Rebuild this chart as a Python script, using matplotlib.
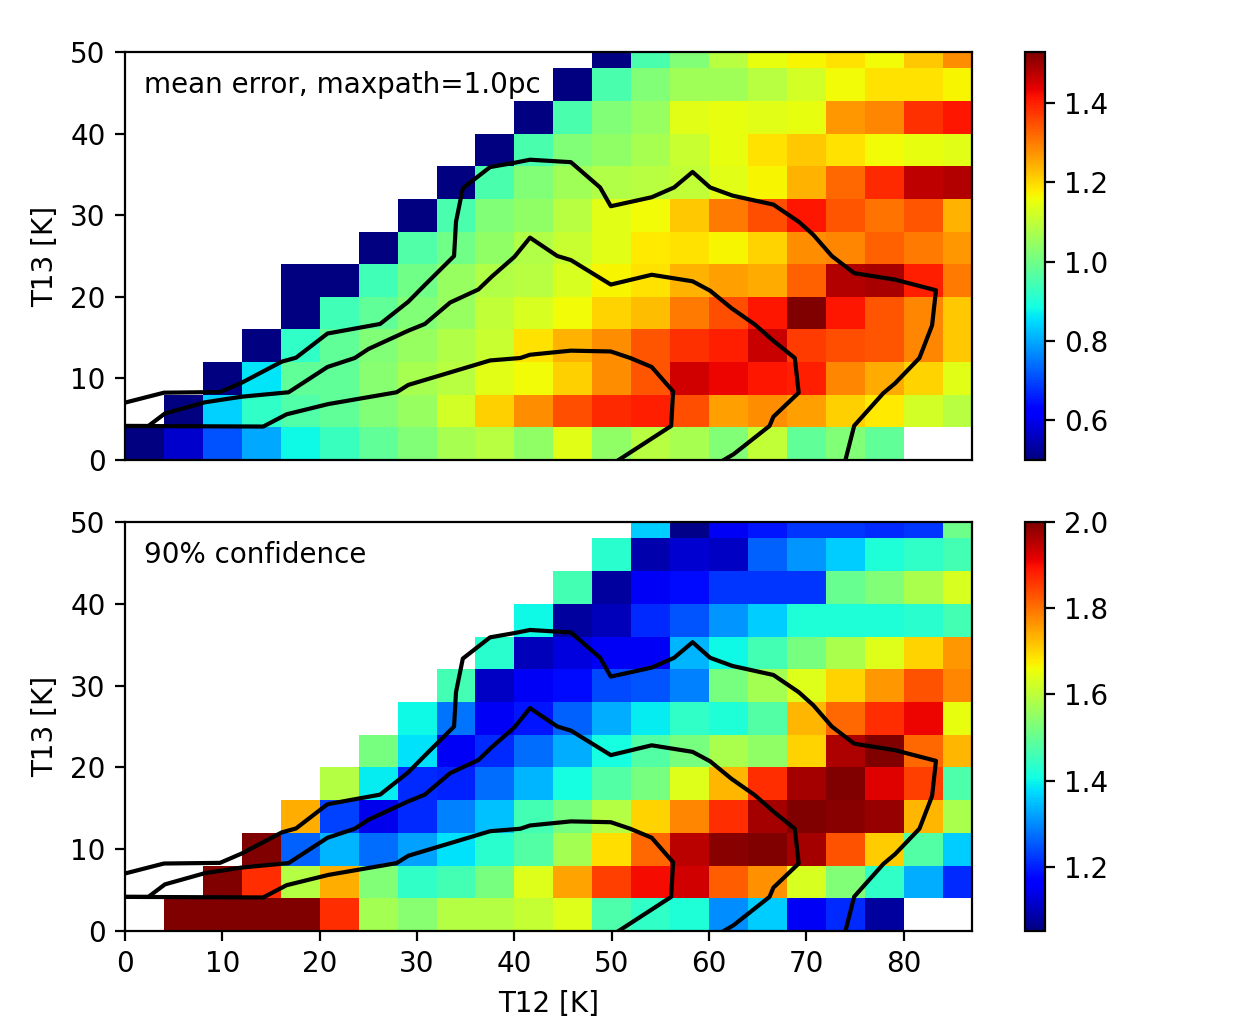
import numpy as np
import matplotlib
matplotlib.use("Agg")
import matplotlib.pyplot as plt

plt.rcParams['text.hinting'] = 'auto'
n = np.nan
mean_error = [
 [.50,.57,.71,.80,.88,.93,.98,1.02,1.07,1.09,1.04,1.14,1.04,1.09,1.07,1.02,1.10,.98,1.02,.98,n,n],
 [n,.50,.84,.92,.96,.98,1.02,1.05,1.12,1.21,1.28,1.35,1.39,1.40,1.35,1.26,1.28,1.26,1.21,1.18,1.12,1.09],
 [n,n,.50,.86,.98,.98,1.03,1.07,1.09,1.14,1.16,1.21,1.28,1.34,1.455,1.43,1.41,1.40,1.29,1.25,1.205,1.14],
 [n,n,n,.50,.92,.98,1.02,1.05,1.08,1.11,1.19,1.24,1.28,1.34,1.38,1.40,1.46,1.37,1.35,1.34,1.29,1.215],
 [n,n,n,n,.50,.94,.98,1.02,1.05,1.10,1.13,1.16,1.205,1.23,1.30,1.35,1.41,1.53,1.41,1.34,1.29,1.215],
 [n,n,n,n,.50,.50,.94,1.00,1.05,1.08,1.09,1.13,1.17,1.19,1.24,1.26,1.25,1.33,1.48,1.49,1.40,1.30],
 [n,n,n,n,n,n,.50,.96,1.00,1.04,1.08,1.11,1.14,1.18,1.19,1.17,1.205,1.28,1.29,1.33,1.30,1.27],
 [n,n,n,n,n,n,n,.50,.95,1.02,1.04,1.09,1.14,1.16,1.215,1.30,1.35,1.41,1.34,1.31,1.34,1.24],
 [n,n,n,n,n,n,n,n,.50,.95,1.02,1.06,1.08,1.09,1.10,1.14,1.17,1.24,1.32,1.39,1.47,1.48],
 [n,n,n,n,n,n,n,n,n,.50,.95,1.02,1.04,1.07,1.11,1.15,1.19,1.215,1.19,1.16,1.15,1.14],
 [n,n,n,n,n,n,n,n,n,n,.50,.95,1.02,1.05,1.14,1.15,1.14,1.15,1.27,1.29,1.38,1.41],
 [n,n,n,n,n,n,n,n,n,n,n,.50,.95,1.02,1.06,1.06,1.09,1.12,1.16,1.19,1.19,1.17],
 [n,n,n,n,n,n,n,n,n,n,n,n,.50,.95,1.02,1.09,1.15,1.17,1.19,1.16,1.215,1.28],
]
confidence = [
 [n,2,2,2,2,1.87,1.57,1.54,1.59,1.59,1.61,1.64,1.47,1.44,1.42,1.30,1.36,1.15,1.21,1.08,n,n],
 [n,n,2,1.87,1.59,1.74,1.53,1.44,1.46,1.52,1.64,1.75,1.85,1.90,1.93,1.82,1.77,1.63,1.53,1.44,1.33,1.21],
 [n,n,n,2,1.26,1.34,1.27,1.32,1.38,1.43,1.48,1.57,1.69,1.81,1.95,1.99,2.0,1.97,1.83,1.71,1.48,1.36],
 [n,n,n,n,1.74,1.23,1.14,1.21,1.29,1.35,1.46,1.52,1.59,1.70,1.78,1.87,1.97,2.0,1.99,1.98,1.73,1.58],
 [n,n,n,n,n,1.59,1.39,1.21,1.20,1.27,1.34,1.41,1.48,1.52,1.64,1.73,1.87,1.97,2.0,1.92,1.85,1.47],
 [n,n,n,n,n,n,1.52,1.38,1.15,1.21,1.27,1.33,1.41,1.48,1.52,1.58,1.55,1.70,1.96,2.0,1.81,1.73],
 [n,n,n,n,n,n,n,1.40,1.28,1.15,1.19,1.26,1.33,1.39,1.44,1.42,1.48,1.73,1.81,1.87,1.91,1.65],
 [n,n,n,n,n,n,n,n,1.46,1.11,1.15,1.18,1.24,1.25,1.29,1.52,1.57,1.64,1.70,1.76,1.83,1.78],
 [n,n,n,n,n,n,n,n,n,1.43,1.10,1.13,1.15,1.15,1.34,1.40,1.46,1.52,1.58,1.64,1.70,1.76],
 [n,n,n,n,n,n,n,n,n,n,1.40,1.08,1.10,1.21,1.25,1.31,1.36,1.42,1.42,1.42,1.43,1.46],
 [n,n,n,n,n,n,n,n,n,n,n,1.46,1.08,1.15,1.18,1.22,1.22,1.22,1.50,1.53,1.58,1.63],
 [n,n,n,n,n,n,n,n,n,n,n,n,1.43,1.09,1.12,1.11,1.26,1.31,1.36,1.42,1.44,1.46],
 [n,n,n,n,n,n,n,n,n,n,n,n,n,1.36,1.06,1.15,1.19,1.22,1.22,1.21,1.22,1.51],
]
t12_edges = list(range(0, 92, 4))
t13_edges = list(range(0, 56, 4))

outer_t12 = [0,4.0,9.76,12.0,16.1,17.57,20.8,26.2,29.1,30.8,33.8,34.0,34.7,37.5,39.9,41.6,45.8,48.8,49.9,54.1,56.4,58.3,60.1,62.4,66.6,69.2,70.7,72.6,74.9,79.1,83.3,82.9,81.6,79.1,77.9,74.9,74.0]
outer_t13 = [7.03,8.25,8.33,9.48,12.05,12.54,15.5,16.67,19.4,21.45,25.0,29.2,33.3,35.9,36.4,36.8,36.5,33.4,31.1,32.2,33.4,35.3,33.4,32.4,31.3,29.2,27.6,25.0,22.9,22.1,20.8,16.5,12.5,9.4,8.2,4.2,0]
middle_t12 = [0,2.4,4.1,8.2,12,16.8,20.8,23.6,25,29.1,30.8,33.4,36.3,37.7,40,41.6,44.4,45.8,49.9,54.1,58.3,60.1,62.3,64.7,66.6,68.8,69.2,66.6,66.2,62.5,61.5]
middle_t13 = [4.17,4.17,5.7,7.07,7.76,8.3,11.4,12.5,13.6,15.85,16.67,19.3,20.9,22.5,24.9,27.25,25.0,24.5,21.5,22.7,21.9,20.75,18.6,16.6,14.6,12.5,8.25,5.3,4.17,0.7,0]
inner_t12 = [0,14.2,16.6,20.9,27.9,29.1,37.5,40.6,41.6,45.8,49.9,51.9,54.1,56.3,56.1,50.7]
inner_t13 = [4.17,4.1,5.6,6.86,8.3,9.2,12.2,12.5,12.9,13.4,13.3,12.5,11.4,8.4,4.17,0]

W, H = 1246, 1034
fig = plt.figure(figsize=(W / 200, H / 200), dpi=200)

def box(l, t, r, b):
    return [l / W, 1 - b / H, (r - l) / W, (b - t) / H]

panels = [
    (mean_error, 0.5, 1.528, (52, 460), "mean error, maxpath=1.0pc", [0.6, 0.8, 1.0, 1.2, 1.4]),
    (confidence, 1.051, 2.0, (522, 931), "90% confidence", [1.2, 1.4, 1.6, 1.8, 2.0]),
]
for i, (data, vmin, vmax, (top, bottom), label, cticks) in enumerate(panels):
    ax = fig.add_axes(box(125, top, 972, bottom))
    mesh = ax.pcolormesh(t12_edges, t13_edges, np.array(data, dtype=float),
                         cmap="jet", vmin=vmin, vmax=vmax)
    for xs, ys in [(outer_t12, outer_t13), (middle_t12, middle_t13), (inner_t12, inner_t13)]:
        ax.plot(xs, ys, color="k", lw=1.5)
    ax.set_xlim(0, 87)
    ax.set_ylim(0, 50)
    ax.set_xticks(range(0, 90, 10))
    ax.set_yticks(range(0, 60, 10))
    ax.set_ylabel("T13 [K]")
    ax.text(2, 45, label, fontsize=10)
    if i == 0:
        ax.tick_params(bottom=False, labelbottom=False)
    else:
        ax.set_xlabel("T12 [K]")
    cax = fig.add_axes(box(1025, top, 1045, bottom))
    cb = fig.colorbar(mesh, cax=cax)
    cb.set_ticks(cticks)

fig.savefig("out.png", dpi=200)
